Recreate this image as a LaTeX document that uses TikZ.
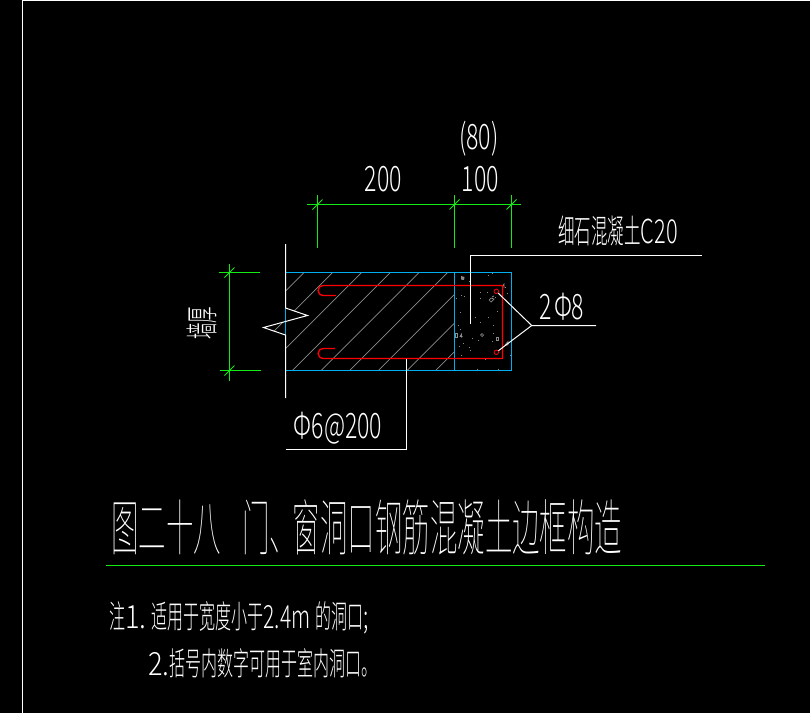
\documentclass[tikz,border=0pt]{standalone}
\usepackage{fontspec}
\usepackage{tikz}
\usetikzlibrary{positioning}
\newfontfamily\cadtitle[FakeStretch=0.45]{Noto Sans CJK SC Thin}
\newfontfamily\cadcjk[FakeStretch=0.5]{Noto Sans CJK SC Light}
\newfontfamily\cadnum[FakeStretch=0.66]{Noto Sans CJK SC Light}
\newfontfamily\cadwide[FakeStretch=0.85]{Noto Sans CJK SC Light}
\definecolor{dim-green}{RGB}{20,235,20}
\definecolor{slab-blue}{RGB}{0,175,240}
\definecolor{bar-red}{RGB}{255,0,0}
\definecolor{hatch-gray}{RGB}{140,140,140}
\tikzstyle{outline}=[draw=white, line width=1pt]
\tikzstyle{dim-line}=[draw=dim-green, line width=1pt]
\tikzstyle{slab-line}=[draw=slab-blue, line width=1pt]
\tikzstyle{bar-line}=[draw=bar-red, line width=1.3pt]
\tikzstyle{hatch-line}=[draw=hatch-gray, line width=0.7pt]
\tikzstyle{bar-dot}=[draw=bar-red, line width=0.8pt, circle, inner sep=0pt, minimum size=4.5pt]
\tikzstyle{cad-big}=[text=white, inner sep=0pt, font=\cadtitle\fontsize{61}{61}\selectfont]
\tikzstyle{cad-note}=[text=white, inner sep=0pt, font=\cadcjk\fontsize{32}{32}\selectfont]
\tikzstyle{cad-label}=[text=white, inner sep=0pt, font=\cadcjk\fontsize{33}{33}\selectfont]
\tikzstyle{cad-num}=[text=white, inner sep=0pt, font=\cadnum\fontsize{35}{35}\selectfont]
\begin{document}
\begin{tikzpicture}[x=1pt,y=-1pt]
\useasboundingbox (0,0) rectangle (810,713);
\fill[black] (0,0) rectangle (810,713);

\draw [outline] (22.5,713) -- (22.5,0.5) -- (810,0.5);

\begin{scope}
\clip (285.5,272.5) -- (454.5,272.5) -- (454.5,370.5) -- (285.5,370.5) -- (285.5,335)
  -- (263.5,327.5) -- (307.5,315.5) -- (285.5,308) -- cycle;
\foreach \x in {304,332.7,361.5,390.3,419,447.6,476.3,505,533.5}
{
  \draw [hatch-line] (\x,272.5) -- ({\x-98},370.5);
}
\end{scope}

\foreach \x/\y in {488.3/275,492.3/273.3,469.3/281,480/291.7,487.3/292.3,507.3/292.7,460.7/295,464/296,
  480/298.3,495/297.3,496.7/310.7,460/312,470/316.7,475/317.3,488.3/317.3,458.3/325,480/321.7,493.3/325,
  460/329.3,493.3/332.7,471.7/338.3,478.3/340,491.7/341,459.3/346,463.3/342.7,469.3/346.7,461/355,
  485/359.3,477.3/369.3,498.3/368.7,470/350,505/287,510/355,456/298}
{
  \fill [hatch-gray] (\x,\y) rectangle ({\x+1},{\y+1});
}
\fill [hatch-gray] (461,276) -- (464.5,277) -- (464,280) -- (461,279.5) -- cycle;
\draw [hatch-line] (489,300) -- (491,302) -- (494,299) -- (491,298) -- (489,300) (492,297) -- (494,296);
\draw [hatch-line] (455.5,333) rectangle (457.5,337);
\draw [hatch-line] (460,336.5) -- (461.5,334) -- (461.5,337.5) (459.5,336.5) -- (462.5,336.5);
\draw [hatch-line] (480.5,335) -- (482,333.5) -- (483.5,335) -- (482,336.5) -- cycle;
\draw [hatch-line] (496.5,337.5) rectangle (498.5,340.5);
\draw [hatch-line] (505,345) -- (508,341.5) -- (508,345) -- cycle;
\draw [hatch-line] (502,287) -- (504,284) -- (504,288);

\draw [slab-line] (285.5,272.5) rectangle (511.5,370.5);
\draw [slab-line] (454.5,272.5) -- (454.5,370.5);

\draw [outline] (285.5,244) -- (285.5,308) -- (307.5,315.5) -- (263.5,327.5) -- (285.5,335) -- (285.5,398);

\draw [bar-line] (336,295.5) -- (324,295.5) .. controls (316,295.5) and (316,285.5) .. (324,285.5)
  -- (502.5,285.5) -- (502.5,358.5) -- (324,358.5) .. controls (316,358.5) and (316,348.5) .. (324,348.5) -- (335,348.5);

\node[bar-dot] (bar-top) at (496.3,291.3) {};
\node[bar-dot] (bar-bottom) at (496.3,352.3) {};

\coordinate (tip-bars) at (531.7,325.5);
\coordinate (end-bars) at (596,325.5);
\draw [outline] (bar-top) -- (tip-bars) -- (end-bars);
\draw [outline] (bar-bottom) -- (tip-bars);
\node[cad-num] (label-bars) at (562,307) {2\hspace{2pt}Φ8};

\coordinate (fill-foot) at (470.5,323.5);
\coordinate (fill-knee) at (470.5,255.5);
\coordinate (fill-end) at (702,255.5);
\draw [outline] (fill-foot) -- (fill-knee) -- (fill-end);
\node[cad-label] (label-fill) at (618,231) {细石混凝土{\cadnum C20}};

\coordinate (stirrup-top) at (406.5,358.5);
\coordinate (stirrup-knee) at (406.5,449.5);
\coordinate (stirrup-end) at (286,449.5);
\draw [outline] (stirrup-top) -- (stirrup-knee) -- (stirrup-end);
\node[cad-num] (label-stirrup) at (338,428) {Φ6@200};

\draw [dim-line] (307,204.5) -- (520.5,204.5);
\foreach \x in {317.5,454.5,511.5}
{
  \draw [dim-line] (\x,195) -- (\x,247.7);
  \draw [dim-line] ({\x-5},209.5) -- ({\x+5},199.5);
}
\node[cad-num] (label-200) at (383.5,179) {200};
\node[cad-num] (label-100) at (480.5,179) {100};
\node[cad-num] (label-80) at (478.7,138.5) {(80)};

\draw [dim-line] (229.5,263.5) -- (229.5,380.7);
\draw [dim-line] (219,272.5) -- (259.5,272.5);
\draw [dim-line] (220,370.5) -- (261,370.5);
\foreach \y in {272.5,370.5}
{
  \draw [dim-line] (224.5,{\y+5}) -- (234.5,{\y-5});
}
\node[cad-label, rotate=90] (label-wall) at (202,323) {墙厚};

\node[cad-big, anchor=west] (title) at (111,527) {图二十八\hspace{21pt}门、\hspace{-4pt}窗洞口钢筋混凝土边框构造};
\draw [dim-line] (106,565.5) -- (765,565.5);

\node[cad-note, anchor=west] (note-one) at (109,618) {注{\cadwide 1.}\hspace{5pt}适用于宽度小于{\cadnum 2.4m}\hspace{5pt}的洞口{\cadnum ;}};
\node[cad-note, anchor=west] (note-two) at (148,663) {{\cadwide 2.}括号内数字可用于室内洞口。};
\end{tikzpicture}
\end{document}
